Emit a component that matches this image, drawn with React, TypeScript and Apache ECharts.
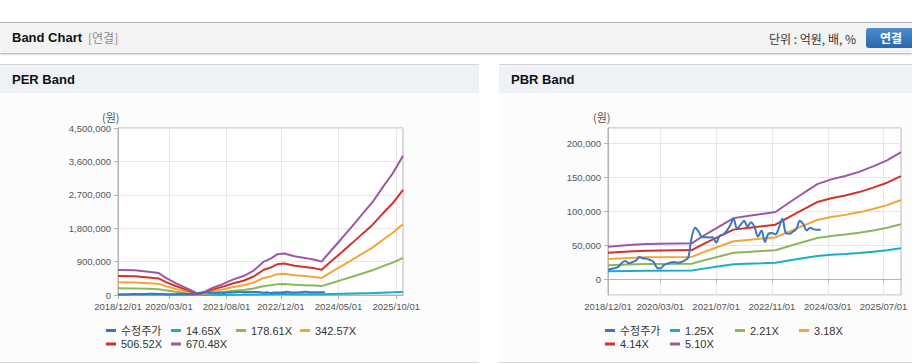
import React, { useEffect, useRef } from 'react';
import * as echarts from 'echarts';

const MONTHS = [
  '2018/12/01',
  '2019/01/01', '2019/02/01', '2019/03/01', '2019/04/01', '2019/05/01', '2019/06/01',
  '2019/07/01', '2019/08/01', '2019/09/01', '2019/10/01', '2019/11/01', '2019/12/01',
  '2020/01/01', '2020/02/01', '2020/03/01', '2020/04/01', '2020/05/01', '2020/06/01',
  '2020/07/01', '2020/08/01', '2020/09/01', '2020/10/01', '2020/11/01', '2020/12/01',
  '2021/01/01', '2021/02/01', '2021/03/01', '2021/04/01', '2021/05/01', '2021/06/01',
  '2021/07/01', '2021/08/01', '2021/09/01', '2021/10/01', '2021/11/01', '2021/12/01',
  '2022/01/01', '2022/02/01', '2022/03/01', '2022/04/01', '2022/05/01', '2022/06/01',
  '2022/07/01', '2022/08/01', '2022/09/01', '2022/10/01', '2022/11/01', '2022/12/01',
  '2023/01/01', '2023/02/01', '2023/03/01', '2023/04/01', '2023/05/01', '2023/06/01',
  '2023/07/01', '2023/08/01', '2023/09/01', '2023/10/01', '2023/11/01', '2023/12/01',
  '2024/01/01', '2024/02/01', '2024/03/01', '2024/04/01', '2024/05/01', '2024/06/01',
  '2024/07/01', '2024/08/01', '2024/09/01', '2024/10/01', '2024/11/01', '2024/12/01',
  '2025/01/01', '2025/02/01', '2025/03/01', '2025/04/01', '2025/05/01', '2025/06/01',
  '2025/07/01', '2025/08/01', '2025/09/01', '2025/10/01', '2025/11/01', '2025/12/01',
];

const PER_TICKS = ['2018/12/01', '2020/03/01', '2021/08/01', '2022/12/01', '2024/05/01', '2025/10/01'];
const PBR_TICKS = ['2018/12/01', '2020/03/01', '2021/07/01', '2022/11/01', '2024/03/01', '2025/07/01'];

const PER_NAMES = ['수정주가', '14.65X', '178.61X', '342.57X', '506.52X', '670.48X'];
const PBR_NAMES = ['수정주가', '1.25X', '2.21X', '3.18X', '4.14X', '5.10X'];
const COLORS = ['#3877c5', '#1badc8', '#8cb65a', '#f5a535', '#d5312b', '#9c58a4'];

// 수정주가 (monthly, 2018/12 ~ 2024/01)
const PRICE = [
  14000, 15500, 16500, 18500, 24500, 27000, 23500, 25500, 27500, 33000, 31000, 30500,
  28500, 26000, 17500, 16000, 21000, 23000, 25000, 25500, 24500, 25500, 28000, 32000,
  62000, 76000, 70000, 62000, 62000, 61500, 62000, 54000, 64000, 66000, 71000, 79000,
  89000, 75000, 80000, 86000, 78000, 84000, 77000, 63000, 72000, 55000, 67000, 68000,
  66000, 76000, 89000, 68000, 67000, 70000, 74000, 86000, 81000, 72000, 76000, 73500,
  73000, 73000,
];

// PER band key months
const PER_KEYS = [
  '2018/12/01', '2019/05/01', '2019/09/01', '2019/12/01', '2020/02/01', '2020/05/01',
  '2020/08/01', '2020/11/01', '2020/12/01', '2021/04/01', '2021/07/01', '2021/10/01',
  '2022/01/01', '2022/04/01', '2022/07/01', '2022/09/01', '2022/11/01', '2023/01/01',
  '2023/04/01', '2023/07/01', '2023/10/01', '2023/12/01', '2024/03/01', '2024/06/01',
  '2024/09/01', '2024/12/01', '2025/03/01', '2025/06/01', '2025/09/01', '2025/12/01',
];
const PER_14 = [14700, 14500, 13700, 12900, 10300, 7000, 4200, 1300, 500, 4400, 6600, 9200, 11100, 14400, 19700, 21400, 24000, 24500, 22800, 21900, 20800, 19700, 26700, 33400, 40400, 47600, 54600, 63400, 71700, 81900];
const PER_178 = [180000, 177000, 167000, 157000, 125000, 85000, 51000, 16000, 7000, 53000, 80000, 112000, 136000, 176000, 240000, 261000, 293000, 298000, 278000, 266000, 253000, 240000, 325000, 408000, 493000, 581000, 666000, 773000, 874000, 999000];
const PER_342 = [345000, 340000, 319000, 301000, 240000, 163000, 97000, 31000, 13000, 102000, 153000, 215000, 261000, 337000, 460000, 501000, 562000, 572000, 534000, 511000, 485000, 460000, 623000, 782000, 945000, 1114000, 1277000, 1482000, 1676000, 1916000];
const PER_506 = [510000, 502000, 472000, 446000, 355000, 242000, 144000, 45000, 19000, 151000, 227000, 317000, 385000, 499000, 680000, 740000, 831000, 846000, 789000, 756000, 718000, 680000, 922000, 1156000, 1398000, 1647000, 1889000, 2191000, 2478000, 2833000];
const PER_670 = [675000, 665000, 625000, 590000, 470000, 320000, 190000, 60000, 25000, 200000, 300000, 420000, 510000, 660000, 900000, 980000, 1100000, 1120000, 1045000, 1000000, 950000, 900000, 1220000, 1530000, 1850000, 2180000, 2500000, 2900000, 3280000, 3750000];

// PBR band key months
const PBR_KEYS = [
  '2018/12/01', '2019/06/01', '2019/11/01', '2020/12/01', '2021/03/01', '2021/07/01',
  '2021/12/01', '2022/04/01', '2022/08/01', '2022/12/01', '2023/06/01', '2023/12/01',
  '2024/04/01', '2024/08/01', '2024/12/01', '2025/04/01', '2025/08/01', '2025/12/01',
];
const PBR_125 = [11800, 12400, 12700, 13000, 15400, 18400, 22100, 22800, 23500, 24300, 29400, 34300, 36000, 37300, 38700, 40700, 42900, 45800];
const PBR_221 = [20800, 21900, 22500, 23000, 27300, 32500, 39000, 40300, 41600, 42900, 52000, 60700, 63700, 65900, 68500, 71900, 75800, 81000];
const PBR_318 = [29900, 31500, 32400, 33000, 39300, 46800, 56100, 58000, 59900, 61700, 74800, 87300, 91700, 94800, 98500, 103500, 109100, 116600];
const PBR_414 = [39000, 41000, 42200, 43000, 51100, 60900, 73100, 75500, 77900, 80400, 97400, 113700, 119300, 123400, 128300, 134800, 142100, 151800];
const PBR_510 = [48000, 50500, 52000, 53000, 63000, 75000, 90000, 93000, 96000, 99000, 120000, 140000, 147000, 152000, 158000, 166000, 175000, 187000];

const FONT = "'Liberation Sans', Arial, 'Noto Sans CJK KR', sans-serif";
const KFONT = "'Noto Sans CJK KR', 'Liberation Sans', sans-serif";
const LEGEND_LEFT = [106, 171, 236, 300, 106, 171];
const LEGEND_TOP = [231, 231, 231, 231, 244.5, 244.5];
const AXIS_COLOR = '#b3b3b3';
const GRID_COLOR = '#e6e6e6';

const fmt = (v: number) => Math.round(v).toLocaleString('en-US');

function buildOption(names: string[], ticks: string[], keys: string[], bands: number[][], yAxis: any, gridLeft: number, gridWidth: number, unitLeft: number) {
  const isTick = (i: number) => ticks.indexOf(MONTHS[i]) >= 0;
  const bandSeries = bands.map((vals, b) => ({
    name: names[b + 1],
    type: 'line',
    symbol: 'none',
    z: 2,
    data: keys.map((k, i) => [MONTHS.indexOf(k), vals[i]]),
    lineStyle: { width: 2, color: COLORS[b + 1] },
    itemStyle: { color: COLORS[b + 1] },
  }));
  const priceSeries = {
    name: names[0],
    type: 'line',
    symbol: 'none',
    smooth: 0.35,
    z: 3,
    data: PRICE,
    lineStyle: { width: 2, color: COLORS[0] },
    itemStyle: { color: COLORS[0] },
  };
  return {
    animation: false,
    grid: {
      left: gridLeft, top: 35, width: gridWidth, height: 167,
      show: true, borderColor: AXIS_COLOR, borderWidth: 1, backgroundColor: '#ffffff',
    },
    legend: names.map((n, i) => ({
      data: [n],
      left: LEGEND_LEFT[i],
      top: LEGEND_TOP[i],
      padding: 0,
      itemWidth: 10,
      itemHeight: 3,
      icon: 'rect',
      selectedMode: false,
      textStyle: { fontSize: 11, color: '#333', fontFamily: FONT, lineHeight: 13 },
    })),
    graphic: [
      {
        type: 'text', left: unitLeft, top: 18,
        style: { text: '(원)', fontSize: 11, fill: '#555', fontFamily: KFONT },
      },
    ],
    xAxis: {
      type: 'category',
      data: MONTHS,
      boundaryGap: false,
      axisLine: { show: true, lineStyle: { color: AXIS_COLOR } },
      axisTick: { show: true, interval: isTick, length: 4, lineStyle: { color: AXIS_COLOR } },
      axisLabel: { interval: isTick, margin: 7, fontSize: 9.5, color: '#555', fontFamily: FONT },
      splitLine: { show: true, interval: isTick, lineStyle: { color: GRID_COLOR } },
    },
    yAxis: {
      type: 'value',
      ...yAxis,
      axisLine: { show: true, lineStyle: { color: AXIS_COLOR } },
      axisTick: { show: true, length: 4, lineStyle: { color: AXIS_COLOR } },
      axisLabel: { margin: 7, fontSize: 9.5, color: '#555', fontFamily: FONT, formatter: fmt, ...(yAxis.axisLabel || {}) },
      splitLine: { show: true, lineStyle: { color: GRID_COLOR } },
    },
    series: [...bandSeries, priceSeries],
  };
}

function Chart({ option, style }: { option: any; style: React.CSSProperties }) {
  const ref = useRef<HTMLDivElement>(null);
  useEffect(() => {
    const c = echarts.init(ref.current as HTMLDivElement, null, { renderer: 'svg' });
    c.setOption(option);
    return () => c.dispose();
  }, []);
  return <div ref={ref} style={style} />;
}

const perOption = buildOption(
  PER_NAMES, PER_TICKS, PER_KEYS,
  [PER_14, PER_178, PER_342, PER_506, PER_670],
  { min: 0, max: 4500000, interval: 900000 },
  118, 285, 102,
);

const pbrOption = buildOption(
  PBR_NAMES, PBR_TICKS, PBR_KEYS,
  [PBR_125, PBR_221, PBR_318, PBR_414, PBR_510],
  { min: -23000, max: 222500, splitNumber: 5, axisLabel: { showMinLabel: false, showMaxLabel: false } },
  109, 293, 94,
);

const abs = (s: React.CSSProperties): React.CSSProperties => ({ position: 'absolute', ...s });

function Panel({ left, width, title }: { left: number; width: number; title: string }) {
  return (
    <div style={abs({ left, top: 64, width, height: 299, boxSizing: 'border-box', borderTop: '1px solid #d3d3d3', borderBottom: '1px solid #dcdcdc', background: '#fcfcfc' })}>
      <div style={abs({ left: 0, top: 0, width, height: 28, background: '#eef2f7' })} />
      <div style={abs({ left: 12, top: 7, fontSize: 13, fontWeight: 'bold', color: '#111', fontFamily: FONT, lineHeight: '16px' })}>{title}</div>
    </div>
  );
}

export default function App() {
  if (typeof document !== 'undefined') document.body.style.margin = '0';
  return (
    <div style={{ position: 'relative', width: 912, height: 364, overflow: 'hidden', background: '#fff' }}>
      <div style={abs({ left: 0, top: 22, width: 912, height: 31, boxSizing: 'border-box', borderTop: '1px solid #b5b5b5', background: '#f3f3f3', boxShadow: '0 1px 2px rgba(0,0,0,0.35)' })} />
      <div style={abs({ left: 12, top: 30, fontSize: 13, fontWeight: 'bold', color: '#111', fontFamily: FONT, lineHeight: '16px' })}>Band Chart</div>
      <div style={abs({ left: 88, top: 30, fontSize: 12, color: '#8a8a8a', fontFamily: KFONT, lineHeight: '16px' })}>[연결]</div>
      <div style={abs({ left: 769, top: 31, fontSize: 12, color: '#333', fontFamily: KFONT, lineHeight: '16px' })}>단위 : 억원, 배, %</div>
      <div style={abs({ left: 866, top: 28, width: 50, height: 20, borderRadius: 3, background: 'linear-gradient(#4c8bd0, #2b67aa)', color: '#fff', fontSize: 12, fontWeight: 'bold', fontFamily: KFONT, textAlign: 'center', lineHeight: '20px' })}>연결</div>

      <Panel left={0} width={479} title="PER Band" />
      <Panel left={499} width={413} title="PBR Band" />

      <Chart option={perOption} style={abs({ left: 0, top: 93, width: 479, height: 269 })} />
      <Chart option={pbrOption} style={abs({ left: 499, top: 93, width: 413, height: 269 })} />
    </div>
  );
}
